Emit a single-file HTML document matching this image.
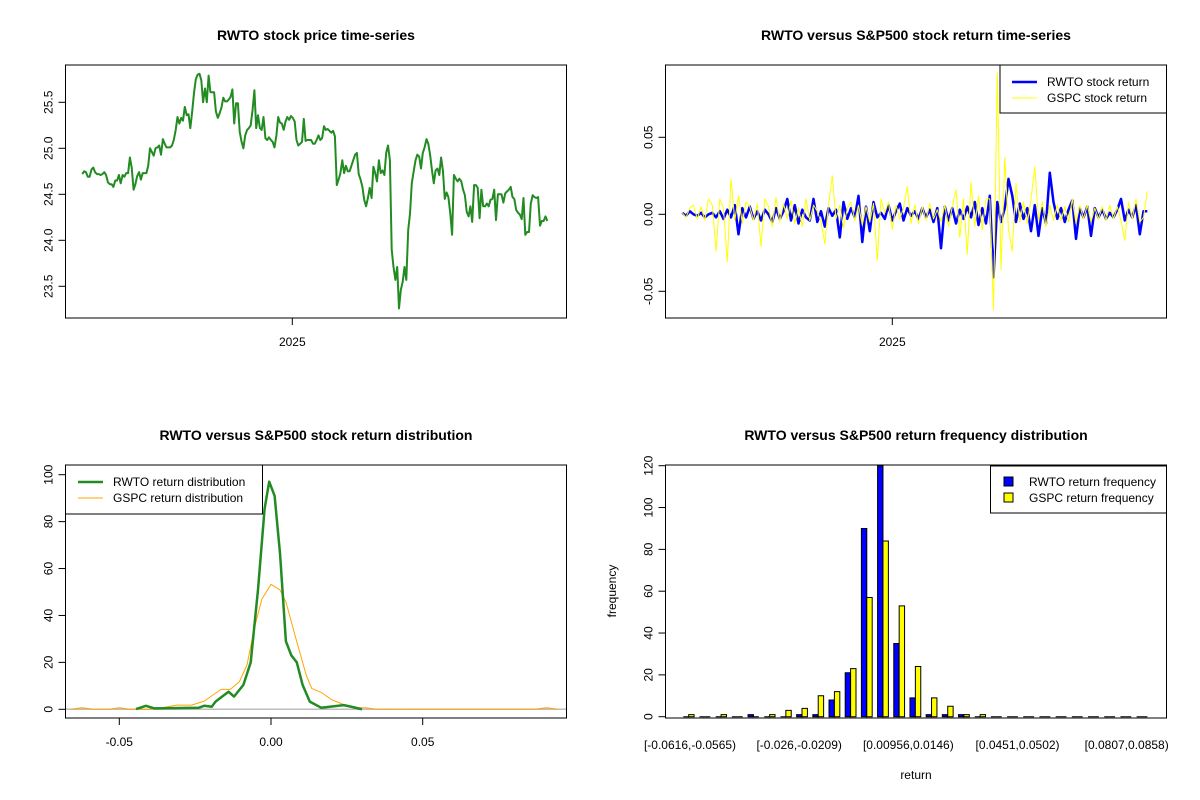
<!DOCTYPE html>
<html><head><meta charset="utf-8"><style>
body{margin:0;background:#fff}
svg{display:block;font-family:"Liberation Sans",Arial,sans-serif}
</style></head><body>
<svg id="root" width="1200" height="800" viewBox="0 0 1200 800">
<rect width="1200" height="800" fill="#fff"/>
<text x="316" y="40" text-anchor="middle" font-size="14" font-weight="bold">RWTO stock price time-series</text>
<text x="916" y="40" text-anchor="middle" font-size="14" font-weight="bold">RWTO versus S&amp;P500 stock return time-series</text>
<text x="316" y="440" text-anchor="middle" font-size="14" font-weight="bold">RWTO versus S&amp;P500 stock return distribution</text>
<text x="916" y="440" text-anchor="middle" font-size="14" font-weight="bold">RWTO versus S&amp;P500 return frequency distribution</text>
<g id="g1"></g>
<g id="g2"></g>
<g id="g3"></g>
<g id="g4"></g>
</svg>
<script>
// ---- data ----
const priceValues=[24.72,24.75,24.74,24.69,24.69,24.77,24.79,24.74,24.72,24.72,24.71,24.72,24.74,24.71,24.63,24.61,24.61,24.58,24.65,24.65,24.71,24.62,24.71,24.69,24.73,24.73,24.90,24.79,24.55,24.61,24.70,24.74,24.66,24.73,24.73,24.73,24.81,25.00,24.96,24.92,25.00,25.01,25.03,24.93,25.10,25.05,25.01,25.01,25.01,25.03,25.09,25.20,25.34,25.27,25.33,25.30,25.45,25.36,25.37,25.22,25.39,25.60,25.75,25.80,25.81,25.74,25.50,25.65,25.50,25.79,25.61,25.61,25.61,25.40,25.33,25.38,25.44,25.55,25.51,25.51,25.53,25.56,25.64,25.27,25.49,25.49,25.18,25.07,25.00,25.14,25.20,25.22,25.25,25.42,25.63,25.22,25.36,25.22,25.20,25.34,25.11,25.09,25.12,25.09,25.07,25.01,25.14,25.34,25.28,25.27,25.20,25.29,25.34,25.31,25.35,25.33,25.29,25.09,25.03,25.05,25.07,25.32,25.08,25.09,25.09,25.09,25.05,25.05,25.09,25.14,25.09,25.11,25.24,25.20,25.21,25.19,25.17,25.19,25.13,24.60,24.66,24.73,24.87,24.73,24.81,24.75,24.75,24.81,24.87,24.93,24.95,24.72,24.66,24.58,24.44,24.37,24.46,24.57,24.46,24.80,24.73,24.64,24.87,24.73,24.76,24.71,24.95,25.03,24.87,23.90,23.71,23.57,23.71,23.26,23.46,23.55,23.71,23.57,24.11,24.29,24.62,24.75,24.87,24.93,24.91,24.78,24.95,25.01,25.10,25.05,24.93,24.76,24.62,24.76,24.78,24.71,24.90,24.76,24.45,24.52,24.47,24.29,24.06,24.71,24.67,24.64,24.67,24.64,24.55,24.49,24.31,24.26,24.37,24.20,24.60,24.60,24.57,24.24,24.55,24.37,24.37,24.40,24.37,24.44,24.45,24.55,24.22,24.50,24.50,24.50,24.41,24.51,24.53,24.55,24.58,24.47,24.45,24.33,24.30,24.28,24.23,24.46,24.06,24.09,24.09,24.40,24.49,24.47,24.46,24.47,24.16,24.21,24.21,24.26,24.21];
const priceTicks=[23.5,24.0,24.5,25.0,25.5];
const rwtoReturns=[0.001,-0.001,0.002,0,-0.001,0.001,-0.002,0,0.001,-0.002,0.002,-0.003,0.003,-0.002,0.006,-0.013,0.004,-0.002,0.005,-0.003,0.002,-0.004,0.003,0,-0.005,0.004,-0.003,0.002,0.01,-0.004,0.006,-0.006,0.003,-0.002,-0.004,0.01,-0.005,0.002,-0.008,0.004,-0.001,0.003,-0.015,0.008,-0.003,0.004,-0.002,0.012,-0.018,0.005,-0.011,0.008,-0.002,0.001,-0.003,0.006,-0.004,0.002,0.007,-0.004,0.004,-0.001,0.002,-0.003,0.004,-0.002,0.003,-0.005,0.004,-0.022,0.005,-0.004,0.004,-0.006,0.003,-0.003,0.005,-0.002,0.008,-0.007,0.004,-0.006,0.012,-0.041,0.008,-0.005,0.004,0.023,0.012,-0.005,0.007,-0.003,0.004,-0.011,0.006,-0.014,0.004,-0.006,0.027,0.008,-0.003,0.004,-0.005,0.003,0.009,-0.016,0.004,-0.002,0.005,-0.014,0.004,-0.002,0.003,-0.003,0.001,-0.002,0.003,0.01,-0.004,0.003,-0.002,0.006,-0.013,0.002,0.002];
const gspcReturns=[0.001,-0.002,0.004,0.006,-0.003,0.005,-0.004,0.01,0.006,-0.024,0.01,0.004,-0.031,0.023,-0.004,0.012,-0.006,0.008,0.005,-0.004,0.007,-0.021,0.01,0.005,-0.008,0.011,-0.005,0.007,-0.003,0.009,-0.006,0.004,-0.008,0.01,-0.004,0.006,0.002,-0.005,-0.019,0.006,0.025,-0.003,0.006,-0.009,0.004,0.008,-0.004,0.006,-0.007,0.005,-0.005,0.007,-0.030,0.01,0.001,0.008,-0.01,0.006,-0.003,0.004,0.018,-0.006,0.006,-0.006,0.005,-0.004,0.007,-0.003,0.003,-0.005,0.006,-0.008,0.005,0.016,-0.015,0.01,-0.026,0.021,-0.008,0.012,-0.01,0.01,0.01,-0.062,0.092,-0.036,0.037,-0.01,-0.024,0.02,-0.005,0.008,-0.006,0.01,0.031,-0.004,0.008,-0.008,0.006,-0.004,0.006,-0.004,0.005,-0.005,0.01,-0.006,0.006,-0.003,0.006,-0.005,0.004,-0.003,0.005,-0.004,0.006,-0.003,0.005,-0.004,-0.017,0.008,-0.003,0.01,-0.005,-0.002,0.015];
const returnTicks=[-0.05,0.00,0.05];
const returnTickLabels=["-0.05","0.00","0.05"];
const rwtoDensX=[-0.0445,-0.0412,-0.0384,-0.0238,-0.022,-0.0195,-0.0183,-0.014,-0.0122,-0.0091,-0.0067,-0.0043,-0.0021,-0.0006,0.0012,0.003,0.0049,0.0067,0.0085,0.0104,0.0128,0.0165,0.024,0.0274,0.03];
const rwtoDensY=[0.1,1.5,0.4,0.7,1.5,1.1,3.3,7.5,5.4,10.4,20,51,85.5,97,91,66,29,23,20,10.4,3.3,0.7,1.8,0.8,0];
const gspcDensX=[-0.0659,-0.0622,-0.0585,-0.053,-0.05,-0.047,-0.0396,-0.036,-0.0311,-0.0262,-0.022,-0.0165,-0.0134,-0.0104,-0.0079,-0.0055,-0.003,0,0.003,0.0049,0.0067,0.0091,0.0116,0.0134,0.0165,0.0201,0.0238,0.0274,0.0311,0.0348,0.087,0.0909,0.0945];
const gspcDensY=[0.1,0.7,0,0.1,0.7,0.1,0.1,0.7,1.8,1.8,3.5,8.5,8.5,11.8,18.9,34.5,47,53.3,50.8,45.8,37.3,26,14.6,8.9,7.2,4,2.1,0.7,0.7,0,0.1,0.7,0];
const densXTicks=[-0.05,0.00,0.05];
const densXTickLabels=["-0.05","0.00","0.05"];
const densYTicks=[0,20,40,60,80,100];
const rwtoFreq=[0,0,0,0,1,0,0,1,1,8,21,90,120,35,9,1,1,1,0,0,0,0,0,0,0,0,0,0,0];
const gspcFreq=[1,0,1,0,0,1,3,4,10,12,23,57,84,53,24,9,5,1,1,0,0,0,0,0,0,0,0,0,0];
const binLabels=["[-0.0616,-0.0565)","[-0.026,-0.0209)","[0.00956,0.0146)","[0.0451,0.0502)","[0.0807,0.0858)"];
const binLabelIdx=[0,7,14,21,28];
const freqTicks=[0,20,40,60,80,100,120];

const NS="http://www.w3.org/2000/svg";
function mk(p,tag,at,txt){const e=document.createElementNS(NS,tag);for(const k in at)e.setAttribute(k,at[k]);if(txt!==undefined)e.textContent=txt;p.appendChild(e);return e;}
function lin(d0,d1,r0,r1){return v=>r0+(v-d0)*(r1-r0)/(d1-d0);}

function frame(g,x0,y0,x1,y1){const r=mk(g,'rect',{x:x0,y:y0,width:x1-x0,height:y1-y0,fill:'none',stroke:'#000','stroke-width':1});

}
function yTick(g,x0,y,label,name){const l=mk(g,'line',{x1:x0-7,y1:y,x2:x0,y2:y,stroke:'#000'});


const t=mk(g,'text',{x:0,y:0,transform:`translate(${x0-13},${y}) rotate(-90)`,'text-anchor':'middle','font-size':12},label);

}
function xTick(g,x,y0,label,name,ly){const l=mk(g,'line',{x1:x,y1:y0,x2:x,y2:y0+7,stroke:'#000'});


const t=mk(g,'text',{x:x,y:ly,'text-anchor':'middle','font-size':12},label);

}
function poly(g,pts,color,w,name){const p=mk(g,'polyline',{points:pts.map(q=>q[0].toFixed(1)+','+q[1].toFixed(1)).join(' '),fill:'none',stroke:color,'stroke-width':w,'stroke-linejoin':'round'});

}

// ---- panel 1: price ----
(function(){const g=document.getElementById('g1');const X0=65.5,X1=566.5,Y0=65,Y1=318;
const y=lin(25.5,23.5,102.3,286.3);const x=lin(0,priceValues.length-1,82.3,547.3);
poly(g,priceValues.map((v,i)=>[x(i),y(v)]),'#228B22',2,'price-line');
frame(g,X0,Y0,X1,Y1);
priceTicks.forEach(v=>yTick(g,X0,y(v),v.toFixed(1),'price-y'));
xTick(g,292.3,Y1,'2025','price-x',346);})();

// ---- panel 2: returns ----
(function(){const g=document.getElementById('g2');const X0=665.5,X1=1166.5,Y0=65,Y1=318;
const y=lin(0,0.05,214.3,137.3);const n=rwtoReturns.length;const x=lin(0,n-1,682.3,1147.3);
poly(g,rwtoReturns.map((v,i)=>[x(i),y(v)]),'#0000FF',2.5,'rwto-return-line');
poly(g,gspcReturns.map((v,i)=>[x(i),y(v)]),'#FFFF00',1,'gspc-return-line');
frame(g,X0,Y0,X1,Y1);
returnTicks.forEach((v,i)=>yTick(g,X0,y(v),returnTickLabels[i],'return-y'));
xTick(g,892.3,Y1,'2025','return-x',346);
const lg=mk(g,'g',{});


mk(lg,'rect',{x:1000,y:65,width:166.5,height:48,fill:'#fff',stroke:'#000'});
mk(lg,'line',{x1:1012,y1:82,x2:1037,y2:82,stroke:'#0000FF','stroke-width':2.5});
mk(lg,'line',{x1:1012,y1:98,x2:1037,y2:98,stroke:'#FFFF00','stroke-width':1});
mk(lg,'text',{x:1047,y:86,'font-size':12},'RWTO stock return');
mk(lg,'text',{x:1047,y:102,'font-size':12},'GSPC stock return');})();

// ---- panel 3: density ----
(function(){const g=document.getElementById('g3');const X0=65.5,X1=566.5,Y0=465,Y1=718;
const x=lin(0,0.05,271,422.7);const y=lin(0,100,709.3,474.7);
const z=mk(g,'line',{x1:X0,y1:y(0),x2:X1,y2:y(0),stroke:'#bebebe','stroke-width':1.5});


poly(g,gspcDensX.map((v,i)=>[x(v),y(gspcDensY[i])]),'#FFA500',1,'gspc-density-line');
poly(g,rwtoDensX.map((v,i)=>[x(v),y(rwtoDensY[i])]),'#228B22',2.5,'rwto-density-line');
frame(g,X0,Y0,X1,Y1);
densYTicks.forEach(v=>yTick(g,X0,y(v),String(v),'density-y'));
densXTicks.forEach((v,i)=>xTick(g,x(v),Y1,densXTickLabels[i],'density-x',746));
const lg=mk(g,'g',{});


mk(lg,'rect',{x:65.5,y:465,width:197,height:49,fill:'#fff',stroke:'#000'});
mk(lg,'line',{x1:78,y1:482,x2:103,y2:482,stroke:'#228B22','stroke-width':2.5});
mk(lg,'line',{x1:78,y1:498,x2:103,y2:498,stroke:'#FFA500','stroke-width':1});
mk(lg,'text',{x:113,y:486,'font-size':12},'RWTO return distribution');
mk(lg,'text',{x:113,y:502,'font-size':12},'GSPC return distribution');})();

// ---- panel 4: histogram ----
(function(){const g=document.getElementById('g4');const X0=665.5,X1=1166.5,Y0=465,Y1=718;
const y=lin(0,120,716.7,465.7);const bw=5.4,pitch=16.19,left=683.3;
const gx=i=>left+i*pitch;
function bar(x0,v,fill){const y0=y(0),y1=y(v);
const p=mk(g,'path',{d:`M${x0.toFixed(2)},${y0} L${x0.toFixed(2)},${y1.toFixed(2)} L${(x0+bw).toFixed(2)},${y1.toFixed(2)} L${(x0+bw).toFixed(2)},${y0} Z`,fill:fill,stroke:'#000','stroke-width':1});
return p;}
rwtoFreq.forEach((v,i)=>{const r=bar(gx(i),v,'#0000FF');

});
gspcFreq.forEach((v,i)=>{const r=bar(gx(i)+bw,v,'#FFFF00');

});
frame(g,X0,Y0,X1,Y1);
freqTicks.forEach(v=>yTick(g,X0,y(v),String(v),'freq-y'));
const lx=lin(0,28,690,1126.7);
binLabelIdx.forEach((k,i)=>{const t=mk(g,'text',{x:lx(k),y:749,'text-anchor':'middle','font-size':12},binLabels[i]);

});
const yl=mk(g,'text',{x:0,y:0,transform:'translate(616,591) rotate(-90)','text-anchor':'middle','font-size':12},'frequency');


const xl=mk(g,'text',{x:916,y:779,'text-anchor':'middle','font-size':12},'return');


const lg=mk(g,'g',{});


mk(lg,'rect',{x:990.5,y:466,width:176,height:47,fill:'#fff',stroke:'#000'});
mk(lg,'rect',{x:1004,y:477,width:9,height:9,fill:'#0000FF',stroke:'#000'});
mk(lg,'rect',{x:1004,y:493,width:9,height:9,fill:'#FFFF00',stroke:'#000'});
mk(lg,'text',{x:1029,y:486,'font-size':12},'RWTO return frequency');
mk(lg,'text',{x:1029,y:502,'font-size':12},'GSPC return frequency');})();
</script>
</body></html>
